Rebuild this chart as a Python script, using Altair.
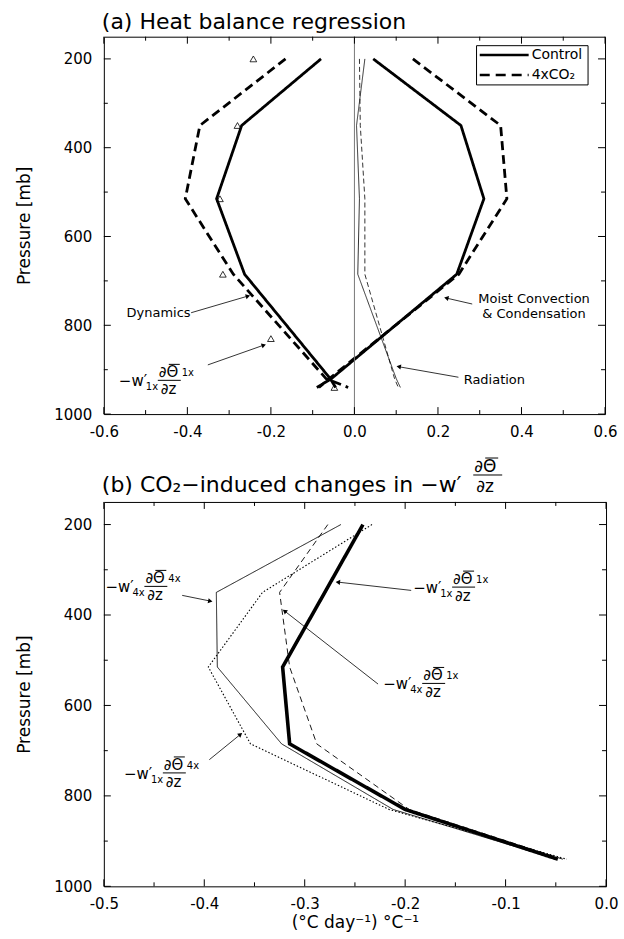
import math

import altair as alt
import pandas as pd

FONT = "DejaVu Sans"

# ---------------------------------------------------------------------------
# Panel (a): heat-balance regression terms, control and 4xCO2 runs
# ---------------------------------------------------------------------------
P_A = [200, 350, 515, 685, 920, 940]
DYN_CTL = [-0.080, -0.270, -0.330, -0.263, -0.058, -0.045]
DYN_4X = [-0.165, -0.370, -0.405, -0.290, -0.068, -0.015]
CONV_CTL = [0.045, 0.255, 0.310, 0.245, -0.055, -0.090]
CONV_4X = [0.140, 0.350, 0.365, 0.250, -0.060, -0.085]
RAD_CTL = [0.025, 0.005, 0.012, 0.008, 0.100, 0.110]
RAD_4X = [0.012, 0.014, 0.025, 0.025, 0.096, 0.105]

# ---------------------------------------------------------------------------
# Panel (b): -w' dTheta/dz built from each combination of runs
# (the 1x/1x profile is also marked with triangles in panel a)
# ---------------------------------------------------------------------------
P_B = [200, 350, 515, 685, 830, 940]
ADV_1X_1X = [-0.242, -0.280, -0.322, -0.315, -0.200, -0.048]
ADV_4X_4X = [-0.264, -0.388, -0.387, -0.323, -0.212, -0.049]
ADV_4X_1X = [-0.277, -0.325, -0.315, -0.288, -0.196, -0.043]
ADV_1X_4X = [-0.233, -0.342, -0.396, -0.354, -0.216, -0.039]

# Axis ticks
A_X_LABELS = [-0.6, -0.4, -0.2, 0.0, 0.2, 0.4, 0.6]
A_X_MINOR = [-0.5, -0.3, -0.1, 0.1, 0.3, 0.5]
B_X_LABELS = [-0.5, -0.4, -0.3, -0.2, -0.1, 0.0]
B_X_MINOR = [-0.45, -0.35, -0.25, -0.15, -0.05]
P_LABELS = [200, 400, 600, 800, 1000]
P_MINOR = [300, 500, 700, 900]

# Annotation arrows (tail x/p -> head x2/p2)
A_ARROWS = {"x": [-0.391, -0.351, 0.282, 0.249], "p": [771.7, 889.2, 752.1, 917.0],
            "x2": [-0.255, -0.217, 0.220, 0.106], "p2": [734.2, 844.7, 738.7, 893.3]}
B_ARROWS = {"x": [-0.422, -0.194, -0.227, -0.395], "p": [356.6, 345.6, 552.7, 720.0],
            "x2": [-0.394, -0.267, -0.320, -0.364], "p2": [369.2, 327.3, 391.2, 664.0]}

# Plain annotation words in panel a
A_WORDS = {"x": [-0.469, 0.430, 0.430, 0.335], "p": [772.0, 741.6, 775.0, 923.0],
           "t": ["Dynamics", "Moist Convection", "& Condensation", "Radiation"]}

# -w'_a dTheta_b/dz labels: anchor (left edge, fraction bar) and subscripts
A_MATH = {"x": [-0.564], "p": [924.0], "ws": ["1x"], "ts": ["1x"]}
B_MATH = {"x": [-0.4984, -0.192, -0.2218, -0.480], "p": [336.7, 338.3, 551.3, 749.2],
          "ws": ["4x", "1x", "4x", "1x"], "ts": ["4x", "1x", "1x", "4x"]}

PDOM = [150, 1000]
XA_DOM = [-0.6, 0.6]
XB_DOM = [-0.5, 0.0]
W_A, H_A = 502, 378
W_B, H_B = 503, 385

ONE = pd.DataFrame({"k": [0]})
LABEL_EXPR = "(datum.value < 0 ? '-' : '') + format(abs(datum.value), '.1f')"

Y_AXIS = alt.Axis(values=P_LABELS, format="d", title="Pressure [mb]", labelPadding=12,
                  titlePadding=20, labelFlush=False, labelOverlap=False)
XA_AXIS = alt.Axis(values=A_X_LABELS, labelExpr=LABEL_EXPR, labelPadding=10, title=None,
                   labelFlush=False, labelOverlap=False)
XB_AXIS = alt.Axis(values=B_X_LABELS, labelExpr=LABEL_EXPR, labelPadding=10,
                   title="(\u00b0C day\u207b\u00b9) \u00b0C\u207b\u00b9", titlePadding=3,
                   labelFlush=False, labelOverlap=False)


class Panel:
    """Shared scales and axes for every layer of one panel."""

    def __init__(self, xdom, width, height, xaxis):
        self.xdom, self.w, self.h = xdom, width, height
        self.xs = alt.Scale(domain=xdom, nice=False, zero=False)
        self.ys = alt.Scale(domain=PDOM, nice=False, zero=False, reverse=True)
        self.xaxis = xaxis

    def X(self, field):
        return alt.X(field, scale=self.xs, axis=self.xaxis)

    def Y(self, field):
        return alt.Y(field, scale=self.ys, axis=Y_AXIS)

    def profile(self, levels, values, width, dash):
        df = pd.DataFrame({"p": levels, "v": values})
        return alt.Chart(df).mark_line(color="black", strokeWidth=width, strokeDash=dash).encode(
            x=self.X("v:Q"), y=self.Y("p:Q"), order=alt.Order("p:Q")
        )

    def border_ticks(self, x_major, x_minor):
        w, h = self.w, self.h
        out = []
        for vals, ln in ((x_major, 7), (x_minor, 4)):
            base = alt.Chart(pd.DataFrame({"v": vals})).mark_rule(color="black", strokeWidth=1)
            out.append(base.encode(x=self.X("v:Q"), y=alt.value(h), y2=alt.value(h - ln)))
            out.append(base.encode(x=self.X("v:Q"), y=alt.value(0), y2=alt.value(ln)))
        for vals, ln in ((P_LABELS, 7), (P_MINOR, 4)):
            base = alt.Chart(pd.DataFrame({"v": vals})).mark_rule(color="black", strokeWidth=1)
            out.append(base.encode(y=self.Y("v:Q"), x=alt.value(0), x2=alt.value(ln)))
            out.append(base.encode(y=self.Y("v:Q"), x=alt.value(w), x2=alt.value(w - ln)))
        return out

    def arrows(self, spec):
        df = pd.DataFrame(spec)
        sx = self.w / (self.xdom[1] - self.xdom[0])
        sy = self.h / (PDOM[1] - PDOM[0])
        df["ang"] = [
            math.degrees(math.atan2((b2 - b1) * sy, (a2 - a1) * sx)) % 360
            for a1, b1, a2, b2 in zip(df.x, df.p, df.x2, df.p2)
        ]
        shaft = alt.Chart(df).mark_rule(color="black", strokeWidth=0.8).encode(
            x=self.X("x:Q"), y=self.Y("p:Q"), x2="x2:Q", y2="p2:Q"
        )
        head = alt.Chart(df).mark_point(shape="triangle-right", filled=True, size=26,
                                        color="black", opacity=1).encode(
            x=self.X("x2:Q"), y=self.Y("p2:Q"), angle=alt.Angle("ang:Q", scale=None)
        )
        return [shaft, head]

    def math_labels(self, spec):
        base = alt.Chart(pd.DataFrame(spec)).encode(x=self.X("x:Q"), y=self.Y("p:Q"))
        txt = dict(font=FONT, color="black", align="left", baseline="alphabetic")
        return [
            base.mark_text(text="\u2212w\u2032", fontSize=15, dx=0, dy=6, **txt),
            base.mark_text(fontSize=10, dx=27, dy=10, **txt).encode(text="ws:N"),
            base.mark_text(text="\u2202\u0398", fontSize=15, dx=40, dy=-3, **txt),
            base.mark_rule(color="black", strokeWidth=1, xOffset=50, x2Offset=61,
                           yOffset=-16, y2Offset=-16).encode(x2="x:Q", y2="p:Q"),
            base.mark_text(fontSize=10, dx=63, dy=-4, **txt).encode(text="ts:N"),
            base.mark_rule(color="black", strokeWidth=1, xOffset=39, x2Offset=62).encode(
                x2="x:Q", y2="p:Q"),
            base.mark_text(text="\u2202z", fontSize=15, dx=42, dy=14, **txt),
        ]


def heading(text, dy):
    return alt.Chart(ONE).mark_text(text=text, font=FONT, fontSize=22, color="black",
                                    align="left", baseline="alphabetic").encode(
        x=alt.value(-2), y=alt.value(dy))


# ---------------------------- panel (a) ------------------------------------
pa = Panel(XA_DOM, W_A, H_A, XA_AXIS)

zero_line = alt.Chart(pd.DataFrame({"v": [0.0]})).mark_rule(color="#777777", strokeWidth=1).encode(
    x=pa.X("v:Q")
)

a_lines = [
    pa.profile(P_A, DYN_CTL, 2.8, [1, 0]),
    pa.profile(P_A, DYN_4X, 2.8, [9, 5]),
    pa.profile(P_A, CONV_CTL, 2.8, [1, 0]),
    pa.profile(P_A, CONV_4X, 2.8, [9, 5]),
    pa.profile(P_A, RAD_CTL, 0.8, [1, 0]),
    pa.profile(P_A, RAD_4X, 0.8, [5, 3]),
]

triangles = alt.Chart(pd.DataFrame({"p": P_B, "v": ADV_1X_1X})).mark_point(
    shape="triangle-up", filled=False, size=45, strokeWidth=0.8, color="black", opacity=1
).encode(x=pa.X("v:Q"), y=pa.Y("p:Q"))

words = alt.Chart(pd.DataFrame(A_WORDS)).mark_text(
    font=FONT, fontSize=13, color="black", align="center", baseline="middle"
).encode(x=pa.X("x:Q"), y=pa.Y("p:Q"), text="t:N")

legend_box = alt.Chart(ONE).mark_rect(fill="white", stroke="black", strokeWidth=1).encode(
    x=alt.value(373.3), x2=alt.value(485), y=alt.value(9), y2=alt.value(48.3)
)
legend_ctl = alt.Chart(ONE).mark_rule(color="black", strokeWidth=2.5).encode(
    x=alt.value(376.5), x2=alt.value(425.5), y=alt.value(18.3)
)
legend_4x = alt.Chart(ONE).mark_rule(color="black", strokeWidth=2.5, strokeDash=[10, 6]).encode(
    x=alt.value(376.5), x2=alt.value(425.5), y=alt.value(38.3)
)
legend_txt = [
    alt.Chart(ONE).mark_text(text=t, font=FONT, fontSize=14, color="black", align="left",
                             baseline="middle").encode(x=alt.value(428.5), y=alt.value(yy))
    for t, yy in (("Control", 18.3), ("4xCO\u2082", 38.3))
]

top = alt.layer(
    *a_lines, zero_line, *pa.border_ticks(A_X_LABELS, A_X_MINOR),
    triangles, *pa.arrows(A_ARROWS), words, *pa.math_labels(A_MATH),
    legend_box, legend_ctl, legend_4x, *legend_txt,
    heading("(a) Heat balance regression", -8),
).properties(width=W_A, height=H_A)

# ---------------------------- panel (b) ------------------------------------
pb = Panel(XB_DOM, W_B, H_B, XB_AXIS)

b_lines = [
    pb.profile(P_B, ADV_1X_4X, 1.1, [1.5, 2]),
    pb.profile(P_B, ADV_4X_4X, 0.9, [1, 0]),
    pb.profile(P_B, ADV_4X_1X, 0.9, [6, 4]),
    pb.profile(P_B, ADV_1X_1X, 3.6, [1, 0]),
]

# fraction d(Theta)/dz that finishes the panel title
frac_txt = dict(font=FONT, fontSize=17, color="black", align="left", baseline="alphabetic")
title_frac = [
    alt.Chart(ONE).mark_text(text="\u2202\u0398", **frac_txt).encode(
        x=alt.value(371), y=alt.value(-30)),
    alt.Chart(ONE).mark_rule(color="black", strokeWidth=1).encode(
        x=alt.value(382), x2=alt.value(395), y=alt.value(-44)),
    alt.Chart(ONE).mark_rule(color="black", strokeWidth=1).encode(
        x=alt.value(370), x2=alt.value(399), y=alt.value(-27)),
    alt.Chart(ONE).mark_text(text="\u2202z", **frac_txt).encode(
        x=alt.value(373), y=alt.value(-10)),
]

bottom = alt.layer(
    *b_lines, *pb.border_ticks(B_X_LABELS, B_X_MINOR),
    *pb.arrows(B_ARROWS), *pb.math_labels(B_MATH), *title_frac,
    heading("(b) CO\u2082\u2212induced changes in \u2212w\u2032", -10),
).properties(width=W_B, height=H_B)

chart = (
    alt.vconcat(top, bottom, spacing=88, bounds="flush")
    .properties(padding={"left": 15, "top": 9, "right": 5, "bottom": 5})
    .configure_view(stroke="black", strokeWidth=1)
    .configure_axis(labelFont=FONT, labelFontSize=15, titleFont=FONT, titleFontSize=17,
                    titleFontWeight="normal", labelColor="black", titleColor="black",
                    grid=False, ticks=False, tickSize=0, domain=False)
)

chart.save("out.html", embed_options={"renderer": "svg", "actions": False})
